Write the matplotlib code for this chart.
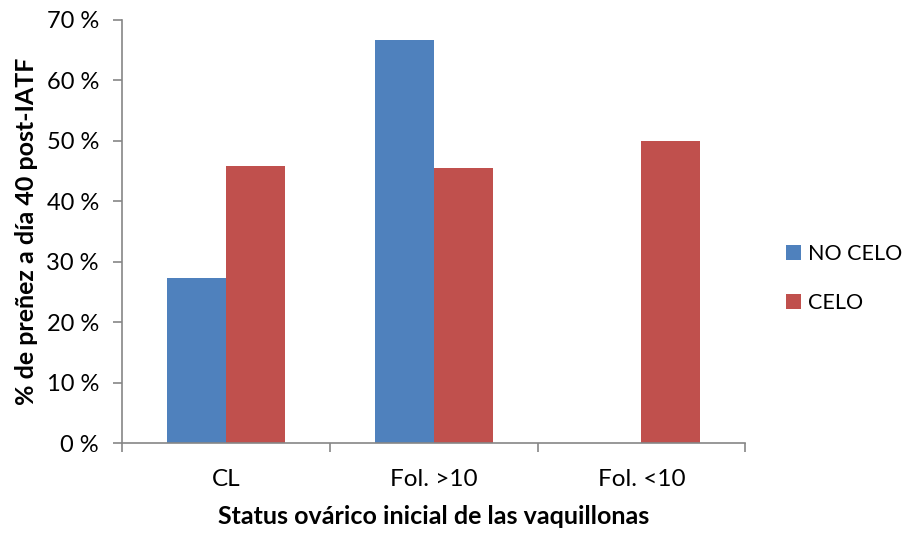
import matplotlib.pyplot as plt
import numpy as np

# data
categories = ["CL", "Fol. >10", "Fol. <10"]
no_celo = [27.3, 66.7, 0.0]
celo = [45.8, 45.5, 50.0]
series_names = ["NO CELO", "CELO"]
yticks = [0, 10, 20, 30, 40, 50, 60, 70]

plt.rcParams['font.family'] = ['Lato', 'DejaVu Sans']

fig = plt.figure(figsize=(9.09, 5.37), dpi=100)
ax = fig.add_axes([0.134, 0.175, 0.686, 0.788])

x = np.arange(len(categories))
w = 0.284
b1 = ax.bar(x - w / 2, no_celo, w, color="#4F81BD", label=series_names[0])
b2 = ax.bar(x + w / 2, celo, w, color="#C0504D", label=series_names[1])

ax.set_xlim(-0.5, len(categories) - 0.5)
ax.set_ylim(0, 70)
ax.set_yticks(yticks)
ax.set_yticklabels([f"{v} %" for v in yticks], fontsize=17)
ax.set_xticks(x)
ax.set_xticklabels(categories, fontsize=17.5)
ax.set_xticks(np.arange(len(categories) + 1) - 0.5, minor=True)

ax.tick_params(axis='x', which='major', length=0, pad=19)
ax.tick_params(axis='x', which='minor', length=6.5, color="#868686", width=1.2)
ax.tick_params(axis='y', length=6.5, color="#868686", width=1.2, pad=10)

for s in ["top", "right"]:
    ax.spines[s].set_visible(False)
for s in ["left", "bottom"]:
    ax.spines[s].set_color("#868686")
    ax.spines[s].set_linewidth(1.2)

ax.set_ylabel("% de preñez a día 40 post-IATF", fontsize=18, fontweight="bold")
ax.set_xlabel("Status ovárico inicial de las vaquillonas", fontsize=18, fontweight="bold")
ax.yaxis.set_label_coords(-0.135, 0.5)
ax.xaxis.set_label_coords(0.5, -0.146)

fig.legend(handles=[b1, b2], loc="center left", bbox_to_anchor=(0.855, 0.482),
           frameon=False, fontsize=15.5, handlelength=0.7, handleheight=0.7,
           handletextpad=0.33, labelspacing=1.35, borderaxespad=0)

fig.savefig("out.png", dpi=100)
